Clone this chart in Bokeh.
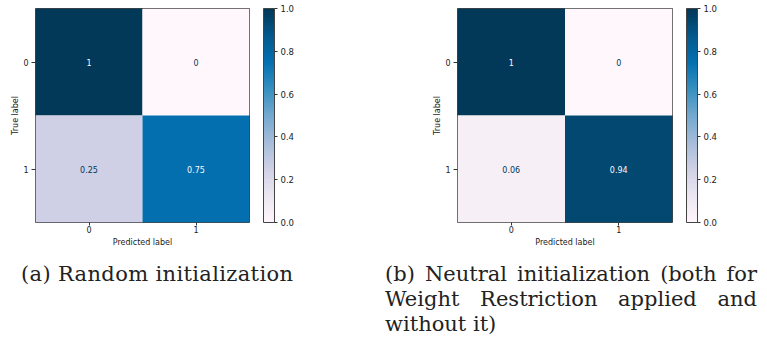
from bokeh.plotting import figure
from bokeh.models import (ColumnDataSource, LinearColorMapper, ColorBar, FixedTicker,
                          PrintfTickFormatter, FactorRange, Div)
from bokeh.layouts import row, column
from bokeh.palettes import PuBu9, interp_palette
from bokeh.transform import transform
from bokeh.core.properties import value
from bokeh.embed import file_html
from bokeh.resources import INLINE

# ---- data ----
classes = ["0", "1"]
true_labels = ["0", "0", "1", "1"]
pred_labels = ["0", "1", "0", "1"]
values_random = [1.0, 0.0, 0.25, 0.75]
values_neutral = [1.0, 0.0, 0.06, 0.94]
cbar_ticks = [0.0, 0.2, 0.4, 0.6, 0.8, 1.0]
caption_a = "(a) Random initialization"
caption_b = "(b) Neutral initialization (both for Weight Restriction applied and without it)"

palette = interp_palette(list(PuBu9[::-1]), 256)
LOW_COLOR = palette[0]
HIGH_COLOR = palette[-1]
FONT = value("DejaVu Sans")


def make_panel(vals, width, border_left, border_right):
    mapper = LinearColorMapper(palette=palette, low=0, high=1)
    labels = [f"{v:.2g}" for v in vals]
    tcolors = [HIGH_COLOR if v < 0.5 else LOW_COLOR for v in vals]
    src = ColumnDataSource(dict(true=true_labels, pred=pred_labels, value=vals,
                                label=labels, tcolor=tcolors))
    p = figure(width=width, height=246, x_range=FactorRange(*classes),
               y_range=FactorRange(*classes[::-1]), output_backend="svg",
               toolbar_location=None, tools="",
               min_border_left=border_left, min_border_right=border_right,
               min_border_top=5, min_border_bottom=27)
    p.rect(x="pred", y="true", width=1, height=1, source=src,
           fill_color=transform("value", mapper), line_color=None)
    p.text(x="pred", y="true", text="label", text_color="tcolor", source=src,
           text_align="center", text_baseline="middle", text_font_size="8px",
           text_font=FONT)
    p.grid.visible = False
    p.outline_line_color = "#444444"
    p.outline_line_width = 1
    p.xaxis.axis_label = "Predicted label"
    p.yaxis.axis_label = "True label"
    for ax in (p.xaxis[0], p.yaxis[0]):
        ax.axis_line_color = None
        ax.major_tick_out = 4
        ax.major_tick_in = 0
        ax.major_tick_line_color = "#333333"
        ax.major_label_text_font_size = "8px"
        ax.major_label_text_font = "DejaVu Sans"
        ax.major_label_text_color = "#222222"
        ax.axis_label_text_font_size = "8px"
        ax.axis_label_text_font = "DejaVu Sans"
        ax.axis_label_text_font_style = "normal"
        ax.axis_label_text_color = "#222222"
    p.xaxis.major_tick_out = 3
    p.xaxis.major_label_standoff = 0
    p.xaxis.axis_label_standoff = 2
    p.yaxis.major_label_standoff = 3
    p.yaxis.axis_label_standoff = 0
    p.yaxis.major_label_orientation = "horizontal"
    cb = ColorBar(color_mapper=mapper, ticker=FixedTicker(ticks=cbar_ticks),
                  formatter=PrintfTickFormatter(format="%.1f"),
                  width=11, height=214, margin=0, padding=0, location=(14, 0),
                  bar_line_color="#444444", major_tick_out=3, major_tick_in=0,
                  major_tick_line_color="#333333", minor_tick_line_color=None,
                  major_label_text_font_size="8.5px",
                  major_label_text_font="DejaVu Sans",
                  major_label_text_color="#222222", label_standoff=3,
                  background_fill_color=None, border_line_color=None)
    p.add_layout(cb, "right")
    return p


fig_a = make_panel(values_random, 379, 29, 136)
fig_b = make_panel(values_neutral, 380, 72, 93)

cap_style = ("font-family:'DejaVu Serif';font-size:21px;line-height:25px;"
             "color:#222;text-align:justify;margin:0;")
div_a = Div(text=f"<div style=\"{cap_style}letter-spacing:0.35px;padding:13px 0 0 15px;width:340px\">{caption_a}</div>",
            width=379, margin=0)
div_b = Div(text=f"<div style=\"{cap_style}padding:13px 0 0 0;width:372px\">{caption_b}</div>",
            width=380, margin=0)

layout = column(row(fig_a, fig_b), row(div_a, div_b), margin=(3, 0, 0, 6))

open("out.html", "w").write(file_html(layout, INLINE))
